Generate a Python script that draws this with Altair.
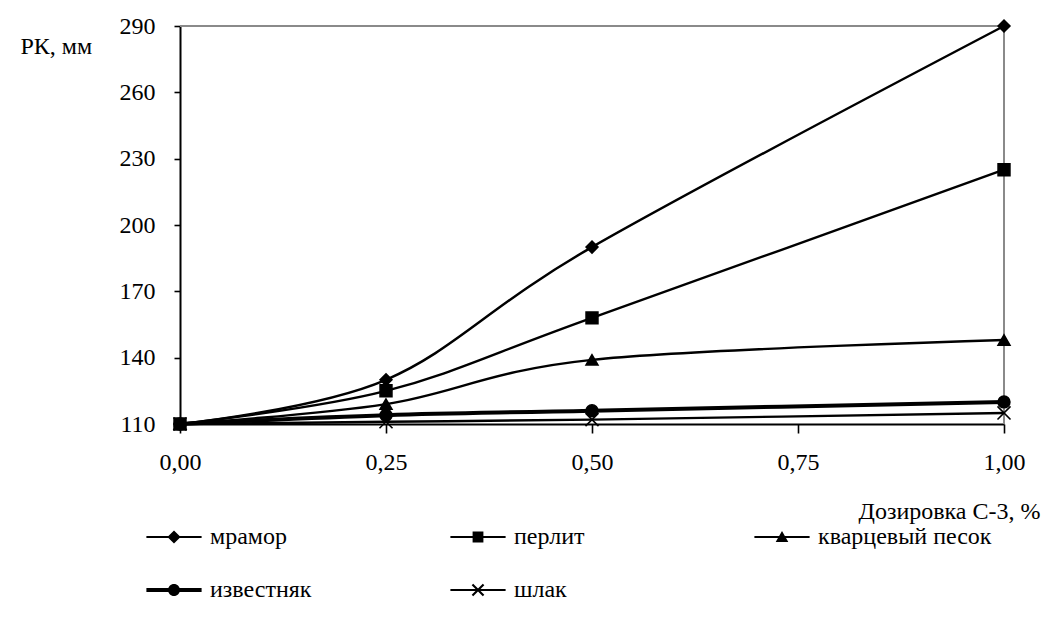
import altair as alt
import pandas as pd

# Dosage of the C-3 superplasticizer, % (x) and cone spread РК, mm (y)
doses = [0.0, 0.25, 0.5, 1.0]
fillers = ["мрамор", "перлит", "кварцевый песок", "известняк", "шлак"]
marble = [110, 130, 190, 290]
perlite = [110, 125, 158, 225]
quartz_sand = [110, 119, 139, 148]
limestone = [110, 114, 116, 120]
slag = [110, 111, 112, 115]

x_ticks = [0.0, 0.25, 0.5, 0.75, 1.0]
y_ticks = [110, 140, 170, 200, 230, 260, 290]

rows = []
for name, vals in zip(fillers, [marble, perlite, quartz_sand, limestone, slag]):
    for d, v in zip(doses, vals):
        rows.append({"dose": d, "rk": v, "filler": name})
df = pd.DataFrame(rows)

FONT = "Times New Roman"
FS = 24

# plot markers
marker_shapes = ["diamond", "square", "triangle-up", "circle", "M-1.1,-1.1L1.1,1.1M-1.1,1.1L1.1,-1.1"]

# legend symbols: a short line with the marker on it (unit = half marker size)
thin = "M-4.6,-0.17H4.6V0.17H-4.6Z"
thick = "M-4.6,-0.34H4.6V0.34H-4.6Z"
legend_shapes = [
    thin + "M0,-1.1L1.1,0L0,1.1L-1.1,0Z",
    thin + "M-0.9,-0.9H0.9V0.9H-0.9Z",
    thin + "M0,-1L1.05,0.85H-1.05Z",
    thick + "M-1,0A1,1 0 1,1 1,0A1,1 0 1,1 -1,0Z",
    thin + "M-1.05,-0.8L-0.8,-1.05L1.05,0.8L0.8,1.05Z"
    + "M0.8,-1.05L1.05,-0.8L-0.8,1.05L-1.05,0.8Z",
]

x_axis = alt.Axis(
    values=x_ticks,
    labelExpr="replace(format(datum.value, '.2f'), '.', ',')",
    labelFlush=False,
    labelFont=FONT,
    title="Дозировка С-3, %",
    titleAnchor="end",
    titleAlign="right",
    titleBaseline="alphabetic",
    titleX=860,
    titleY=94,
    tickSize=9,
    labelPadding=17,
    grid=False,
)
y_axis = alt.Axis(
    values=y_ticks,
    labelFont=FONT,
    title="РК, мм",
    titleAngle=0,
    titleAlign="left",
    titleBaseline="alphabetic",
    titleX=-160,
    titleY=27,
    tickSize=6,
    labelPadding=19,
    grid=False,
)

base = alt.Chart(df)

x_enc = alt.X("dose:Q", scale=alt.Scale(domain=[0, 1], nice=False), axis=x_axis)
y_enc = alt.Y("rk:Q", scale=alt.Scale(domain=[110, 290], nice=False, zero=False), axis=y_axis)

# gray frame on the top and right sides
frame_top = alt.Chart(df).mark_rule(color="#8a8a8a", strokeWidth=2).encode(
    y=alt.datum(y_ticks[-1]), x=alt.value(0), x2=alt.value(824)
)
frame_right = alt.Chart(df).mark_rule(color="#8a8a8a", strokeWidth=2).encode(
    x=alt.datum(x_ticks[-1]), y=alt.value(0), y2=alt.value(398)
)

lines = base.mark_line(interpolate="cardinal", color="black").encode(
    x=x_enc,
    y=y_enc,
    detail="filler:N",
    strokeWidth=alt.condition(alt.datum.filler == "известняк", alt.value(4), alt.value(2.4)),
)

points = base.mark_point(filled=True, fill="black", stroke="black", strokeWidth=1.6, size=140, opacity=1).encode(
    x="dose:Q",
    y="rk:Q",
    shape=alt.Shape("filler:N", scale=alt.Scale(domain=fillers, range=marker_shapes), legend=None),
)

legend_layer = base.mark_point(filled=True, fill="black", stroke="black", strokeWidth=1.2, opacity=0).encode(
    x="dose:Q",
    y="rk:Q",
    shape=alt.Shape(
        "filler:N",
        scale=alt.Scale(domain=fillers, range=legend_shapes),
        legend=alt.Legend(
            title=None,
            orient="none",
            direction="horizontal",
            legendX=-18,
            legendY=499,
            columns=3,
            gridAlign="all",
            columnPadding=66,
            rowPadding=29,
            symbolSize=144,
            symbolFillColor="black",
            symbolStrokeColor="black",
            symbolStrokeWidth=0,
            symbolOpacity=1,
            labelOffset=24,
            labelFont=FONT,
            labelFontSize=FS,
            labelColor="black",
            labelLimit=400,
            padding=0,
        ),
    ),
)

chart = (
    alt.layer(frame_top, frame_right, lines, points, legend_layer)
    .resolve_scale(shape="independent")
    .properties(
        width=824,
        height=398,
        padding={"left": 180, "top": 26, "right": 50, "bottom": 202},
        autosize=alt.AutoSizeParams(type="none"),
        background="white",
    )
    .configure(font=FONT, style={"guide-label": {"font": FONT, "fontSize": FS}})
    .configure_view(stroke=None)
    .configure_axis(
        domainColor="black",
        domainWidth=2,
        tickColor="black",
        tickWidth=1.6,
        labelFont=FONT,
        labelFontSize=FS,
        labelColor="black",
        titleFont=FONT,
        titleFontSize=FS,
        titleFontWeight="normal",
        titleColor="black",
    )
    .configure_legend(labelFont=FONT, labelFontSize=FS)
)

chart.save("out.html", embed_options={"renderer": "svg", "actions": False})
